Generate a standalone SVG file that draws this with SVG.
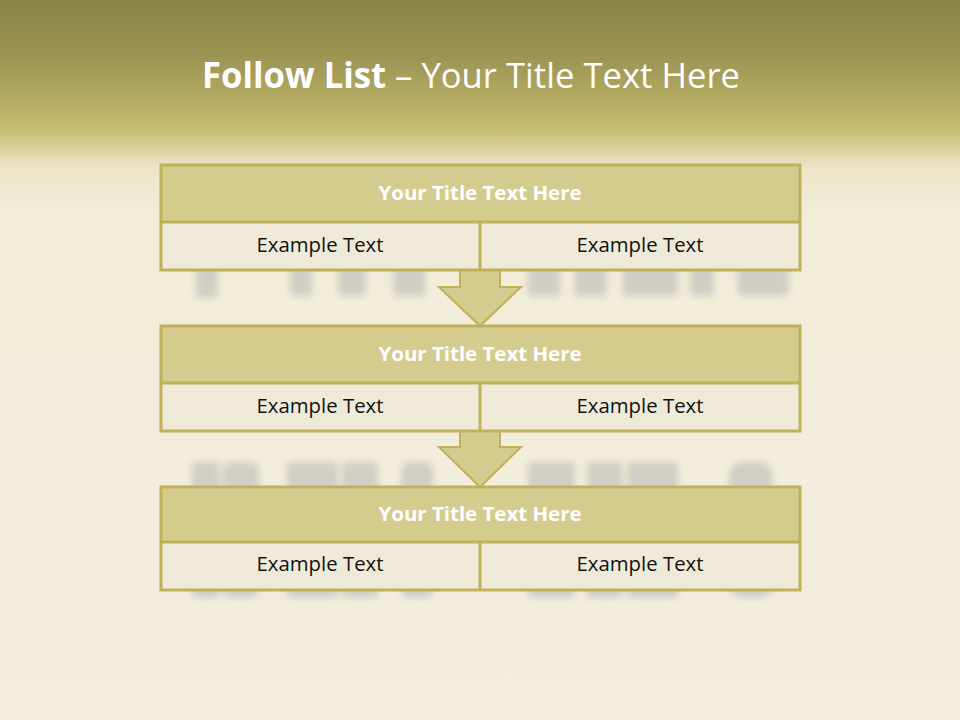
<svg xmlns="http://www.w3.org/2000/svg" width="960" height="720" viewBox="0 0 960 720">
<defs>
<linearGradient id="bg" x1="0" y1="0" x2="0" y2="1">
<stop offset="0" stop-color="#8b854b"/>
<stop offset="0.08" stop-color="#9c9554"/>
<stop offset="0.17" stop-color="#c2b76b"/>
<stop offset="0.185" stop-color="#cbc07a"/>
<stop offset="0.23" stop-color="#ebe4c6"/>
<stop offset="0.3" stop-color="#f2edd9"/>
<stop offset="1" stop-color="#f3eedc"/>
</linearGradient>
<filter id="blur" x="-20%" y="-20%" width="140%" height="140%"><feGaussianBlur stdDeviation="3.5"/></filter>
<style>
.box{fill:none;stroke:#bfb05a;stroke-width:3}
.ttl{fill:#d4cc8f}
.bod{fill:#efead8}
.line{stroke:#bfb05a;stroke-width:3}
.tt{font-family:"Open Sans","Liberation Sans",sans-serif;font-weight:bold;font-size:19px;fill:#ffffff;text-anchor:middle}
.et{font-family:"Open Sans","Liberation Sans",sans-serif;font-size:19.5px;fill:#111111;text-anchor:middle}
.arrow{fill:#d4cc8f;stroke:#bfb05a;stroke-width:2;stroke-linejoin:miter}
.ghost{fill:#b4b4b4;opacity:0.55}
</style>
</defs>
<rect width="960" height="720" fill="url(#bg)"/>
<g id="background-letters" filter="url(#blur)" class="ghost">
<rect x="196" y="262" width="22" height="36" rx="3"/>
<rect x="290" y="262" width="22" height="34" rx="3"/>
<rect x="338" y="262" width="28" height="34" rx="3"/>
<rect x="393" y="262" width="32" height="34" rx="3"/>
<rect x="528" y="262" width="32" height="34" rx="3"/>
<rect x="575" y="262" width="32" height="34" rx="3"/>
<rect x="623" y="262" width="55" height="34" rx="3"/>
<rect x="690" y="262" width="24" height="34" rx="3"/>
<rect x="737" y="262" width="52" height="34" rx="6"/>
<rect x="192" y="462" width="28" height="136" rx="4"/>
<rect x="223" y="462" width="36" height="136" rx="8"/>
<rect x="287" y="462" width="51" height="136" rx="4"/>
<rect x="342" y="462" width="36" height="136" rx="4"/>
<rect x="401" y="462" width="32" height="136" rx="8"/>
<rect x="528" y="462" width="47" height="136" rx="4"/>
<rect x="587" y="462" width="35" height="136" rx="4"/>
<rect x="627" y="462" width="51" height="136" rx="4"/>
<rect x="729" y="462" width="44" height="136" rx="14"/>
</g>
<text x="471" y="88" font-family="Open Sans, Liberation Sans, sans-serif" font-size="35" fill="#ffffff" text-anchor="middle" textLength="538" lengthAdjust="spacingAndGlyphs"><tspan font-weight="bold">Follow List</tspan>  – Your Title Text Here</text>
<g id="connectors">
<polygon class="arrow" points="460,270 500,270 500,287 521,287 480,326 439,287 460,287"/>
<polygon class="arrow" points="460,431 500,431 500,447 521,447 480,487 439,447 460,447"/>
</g>
<g id="node1">
<rect class="ttl" x="161" y="165" width="639" height="57"/>
<rect class="bod" x="161" y="222" width="639" height="48"/>
<line class="line" x1="161" y1="222" x2="800" y2="222"/>
<line class="line" x1="480" y1="222" x2="480" y2="270"/>
<rect class="box" x="161" y="165" width="639" height="105"/>
<text class="tt" x="480" y="200" textLength="203" lengthAdjust="spacingAndGlyphs">Your Title Text Here</text>
<text class="et" x="320" y="252" textLength="127" lengthAdjust="spacingAndGlyphs">Example Text</text>
<text class="et" x="640" y="252" textLength="127" lengthAdjust="spacingAndGlyphs">Example Text</text>
</g>
<g id="node2">
<rect class="ttl" x="161" y="326" width="639" height="57"/>
<rect class="bod" x="161" y="383" width="639" height="48"/>
<line class="line" x1="161" y1="383" x2="800" y2="383"/>
<line class="line" x1="480" y1="383" x2="480" y2="431"/>
<rect class="box" x="161" y="326" width="639" height="105"/>
<text class="tt" x="480" y="361" textLength="203" lengthAdjust="spacingAndGlyphs">Your Title Text Here</text>
<text class="et" x="320" y="413" textLength="127" lengthAdjust="spacingAndGlyphs">Example Text</text>
<text class="et" x="640" y="413" textLength="127" lengthAdjust="spacingAndGlyphs">Example Text</text>
</g>
<g id="node3">
<rect class="ttl" x="161" y="487" width="639" height="55"/>
<rect class="bod" x="161" y="542" width="639" height="48"/>
<line class="line" x1="161" y1="542" x2="800" y2="542"/>
<line class="line" x1="480" y1="542" x2="480" y2="590"/>
<rect class="box" x="161" y="487" width="639" height="103"/>
<text class="tt" x="480" y="521" textLength="203" lengthAdjust="spacingAndGlyphs">Your Title Text Here</text>
<text class="et" x="320" y="571" textLength="127" lengthAdjust="spacingAndGlyphs">Example Text</text>
<text class="et" x="640" y="571" textLength="127" lengthAdjust="spacingAndGlyphs">Example Text</text>
</g>
</svg>
